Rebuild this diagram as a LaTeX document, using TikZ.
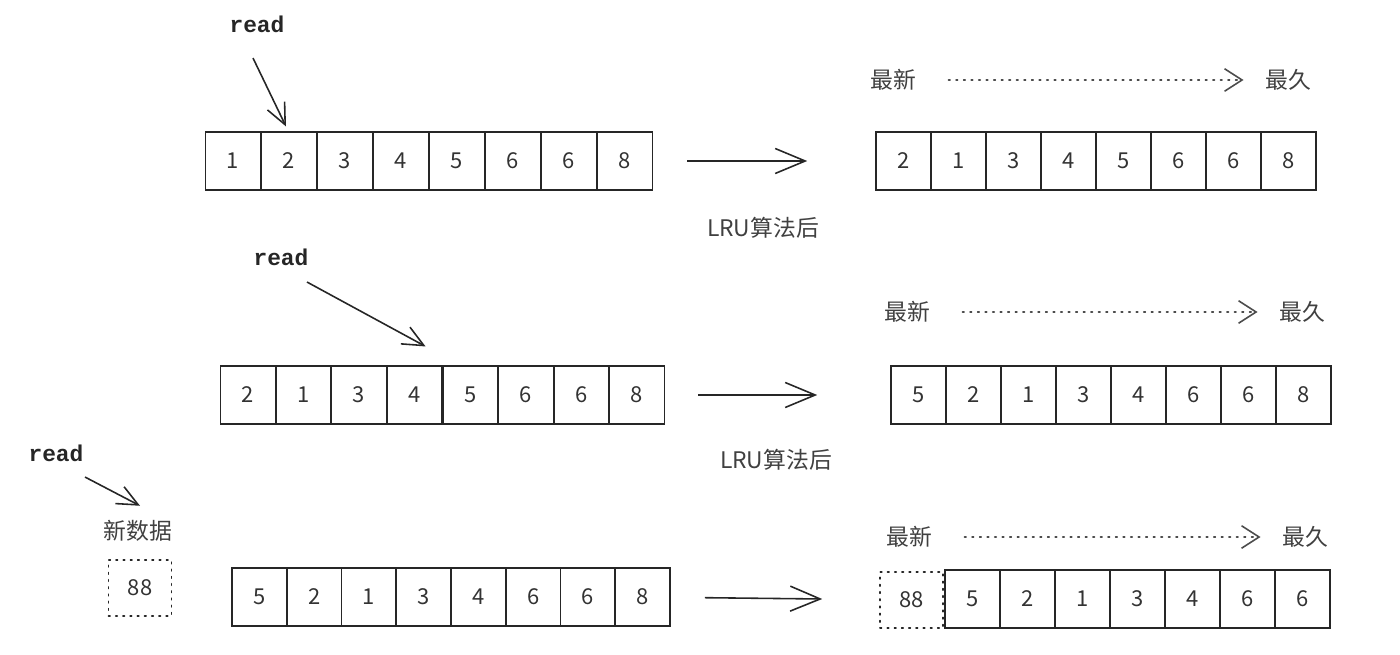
\documentclass[tikz,border=0pt]{standalone}
\usepackage{fontspec}
\setmainfont{Noto Sans CJK SC}
\newfontfamily\readfont{Liberation Mono}
\usetikzlibrary{arrows.meta, calc, positioning}

\begin{document}
\begin{tikzpicture}[x=0.02cm, y=-0.02cm, line width=0.9pt,
    cell/.style = {draw=black!85, minimum width=1.1cm, minimum height=1.15cm, inner sep=0pt, text=black!80, font=\fontsize{12.5}{14}\selectfont},
    newcell/.style = {cell, draw=black!85, dash pattern=on 0.9pt off 3.2pt, line cap=round, minimum width=1.26cm, minimum height=1.12cm},
    word/.style = {text=black!75, font=\fontsize{13}{15}\selectfont},
    readlbl/.style = {text=black!85, font=\readfont\bfseries\fontsize{13}{15}\selectfont},
    moved/.style = {draw=black!85, -{Straight Barb[length=6mm, width=5mm]}},
    pick/.style = {draw=black!85, -{Straight Barb[length=4.2mm, width=3.8mm]}},
    order/.style = {draw=black!70, dash pattern=on 0.9pt off 3.4pt, line cap=round, -{Straight Barb[length=3.5mm, width=4.5mm]}}]

    \useasboundingbox (0,0) rectangle (1400,655);

    % Row 1: read 2
    \foreach \v [count=\i] in {1,2,3,4,5,6,6,8}
        \node[cell] (a\i) at ({233+56*(\i-1)},161) {\v};
    \foreach \v [count=\i] in {2,1,3,4,5,6,6,8}
        \node[cell] (b\i) at ({903.5+55*(\i-1)},161) {\v};
    \node[readlbl] (r1) at (257,24) {read};
    \coordinate (q1) at ($(r1.south)+(-4,19)$);
    \coordinate (p1) at ($(a2.north)+(-3,-5)$);
    \draw[pick] (q1) -- (p1);
    \draw[moved, shorten <=0.68cm, shorten >=1.36cm] (a8) -- (b1);
    \node[word] (lru1) at (763,228) {LRU算法后};
    \node[word] (n1) at (893,80) {最新};
    \node[word] (o1) at (1288,80) {最久};
    \draw[order, shorten <=0.52cm, shorten >=0.3cm] (n1) -- (o1);

    % Row 2: read 4
    \foreach \v [count=\i] in {2,1,3,4,5,6,6,8}
        \node[cell] (c\i) at ({247.8+55.6*(\i-1)},395) {\v};
    \foreach \v [count=\i] in {5,2,1,3,4,6,6,8}
        \node[cell] (d\i) at ({918.5+55*(\i-1)},395) {\v};
    \node[readlbl] (r2) at (281,257) {read};
    \coordinate (q2) at ($(r2.south)+(26,10)$);
    \coordinate (p2) at ($(c4.north)+(11,-19)$);
    \draw[pick] (q2) -- (p2);
    \draw[moved, shorten <=0.66cm, shorten >=1.46cm] (c8) -- (d1);
    \node[word] (lru2) at (776,460) {LRU算法后};
    \node[word] (n2) at (907,312) {最新};
    \node[word] (o2) at (1302,312) {最久};
    \draw[order, shorten <=0.52cm, shorten >=0.3cm] (n2) -- (o2);

    % Row 3: new data 88
    \node[readlbl] (r3) at (56,453) {read};
    \node[word] (nd) at (138,531) {新数据};
    \node[newcell] (new) at (140,588) {88};
    \coordinate (q3) at ($(r3.south)+(29,9)$);
    \coordinate (p3) at ($(nd.north)+(2,-8)$);
    \draw[pick] (q3) -- (p3);
    \foreach \v [count=\i] in {5,2,1,3,4,6,6,8}
        \node[cell] (e\i) at ({259.4+54.75*(\i-1)},597) {\v};
    \node[newcell] (f0) at (911.5,600) {88};
    \foreach \v [count=\i] in {5,2,1,3,4,6,6}
        \node[cell] (f\i) at ({972.5+55*(\i-1)},599) {\v};
    \draw[moved, shorten <=0.68cm, shorten >=1.14cm] (e8) -- (f0);
    \node[word] (n3) at (909,537) {最新};
    \node[word] (o3) at (1305,537) {最久};
    \draw[order, shorten <=0.52cm, shorten >=0.3cm] (n3) -- (o3);
\end{tikzpicture}
\end{document}
